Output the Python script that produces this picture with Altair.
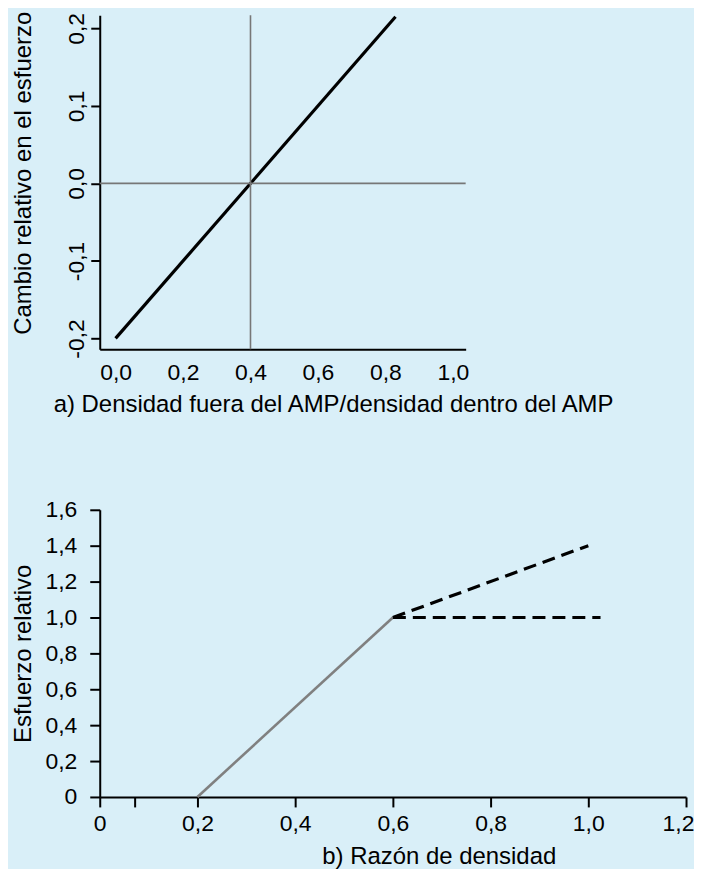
import altair as alt
import pandas as pd

# ---- panel a data ----
a_x = [0.0, 0.83]
a_y = [-0.2, 0.215]
a_vline = [0.4]
a_hline = [0.0]
a_xticks = [0.0, 0.2, 0.4, 0.6, 0.8, 1.0]
a_yticks = [-0.2, -0.1, 0.0, 0.1, 0.2]

# ---- panel b data ----
b_gray_x = [0.2, 0.6]
b_gray_y = [0.0, 1.0]
b_up_x = [0.6, 1.0]
b_up_y = [1.0, 1.4]
b_flat_x = [0.6, 1.025]
b_flat_y = [1.0, 1.0]
b_xticks = [0.0, 0.072, 0.2, 0.4, 0.6, 0.8, 1.0, 1.2]
b_yticks = [0.0, 0.2, 0.4, 0.6, 0.8, 1.0, 1.2, 1.4, 1.6]

BG = "#d9eff8"
FONT = "Liberation Sans"
FS = 23
TFS = 24

comma_signed = "(datum.value < 0 ? '-' : '') + replace(format(abs(datum.value), '.1f'), '.', ',')"
comma_zero = ("abs(datum.value - 0.072) < 0.001 ? '' : (datum.value == 0 ? '0' : "
              "replace(format(datum.value, '.1f'), '.', ','))")

# ---------- panel a ----------
dfa = pd.DataFrame({"x": a_x, "y": a_y})
ax_x = alt.X("x:Q", scale=alt.Scale(domain=[-0.047, 1.038], nice=False, zero=False),
             axis=alt.Axis(values=a_xticks, ticks=False, labelExpr=comma_signed,
                           title="a) Densidad fuera del AMP/densidad dentro del AMP",
                           titleX=234, titleY=55, titleBaseline="middle", titleAlign="center",
                           labelPadding=12, labelFlush=False, labelOverlap=False, grid=False))
ax_y = alt.Y("y:Q", scale=alt.Scale(domain=[-0.214, 0.217], nice=False, zero=False),
             axis=alt.Axis(values=a_yticks, labelExpr=comma_signed, labelAngle=270,
                           labelAlign="center", labelBaseline="alphabetic", labelPadding=7,
                           tickSize=9, title="Cambio relativo en el esfuerzo",
                           titleX=-76, titleY=158, titleBaseline="middle", titleAlign="center",
                           labelFlush=False, labelOverlap=False, grid=False))

line_a = alt.Chart(dfa).mark_line(color="black", strokeWidth=3.2).encode(x=ax_x, y=ax_y)
vrule = alt.Chart(pd.DataFrame({"x": a_vline})).mark_rule(color="#777777", strokeWidth=1.6).encode(
    x="x:Q")
hrule = alt.Chart(pd.DataFrame({"y": a_hline})).mark_rule(color="#777777", strokeWidth=1.6).encode(
    y="y:Q")

top = alt.layer(line_a, vrule, hrule).properties(width=367, height=335)

# ---------- panel b ----------
dfb = pd.concat([
    pd.DataFrame({"x": b_gray_x, "y": b_gray_y, "s": "gris"}),
    pd.DataFrame({"x": b_up_x, "y": b_up_y, "s": "sube"}),
    pd.DataFrame({"x": b_flat_x, "y": b_flat_y, "s": "plano"}),
], ignore_index=True)

bx = alt.X("x:Q", scale=alt.Scale(domain=[0, 1.2], nice=False, zero=False),
           axis=alt.Axis(values=b_xticks, labelExpr=comma_zero, tickSize=10, labelPadding=6,
                         labelAlign={"condition": {"test": "datum.value > 1.1", "value": "right"},
                                     "value": "center"},
                         labelOffset={"condition": {"test": "datum.value > 1.1", "value": 8},
                                      "value": 0},
                         title="b) Razón de densidad", titleX=340, titleY=59.5,
                         titleBaseline="middle", titleAlign="center",
                         labelFlush=False, labelOverlap=False, grid=False))
by = alt.Y("y:Q", scale=alt.Scale(domain=[0, 1.6], nice=False, zero=False),
           axis=alt.Axis(values=b_yticks, labelExpr=comma_zero, tickSize=10, labelPadding=13,
                         labelBaseline="middle",
                         title="Esfuerzo relativo", titleX=-76, titleY=144,
                         titleBaseline="middle", titleAlign="center",
                         labelFlush=False, labelOverlap=False, grid=False))

gray_b = alt.Chart().transform_filter("datum.s == 'gris'").mark_line(
    color="#808080", strokeWidth=2.6)
dash_b = alt.Chart().transform_filter("datum.s != 'gris'").mark_line(
    color="black", strokeWidth=3.2, strokeDash=[13, 7]).encode(detail="s:N")

bottom = alt.layer(gray_b, dash_b, data=dfb).encode(x=bx, y=by).properties(width=588, height=288)

chart = alt.vconcat(top, bottom, spacing=83).properties(
    background=BG,
    padding={"left": 3, "top": 1, "right": 0, "bottom": -1},
).configure_view(stroke=None).configure_axis(
    labelFont=FONT, titleFont=FONT, labelFontSize=FS, titleFontSize=TFS,
    labelColor="black", titleColor="black", titleFontWeight="normal",
    domainColor="black", domainWidth=2, tickColor="black", tickWidth=2,
)

chart.save("out.html", embed_options={"renderer": "svg", "actions": False})
